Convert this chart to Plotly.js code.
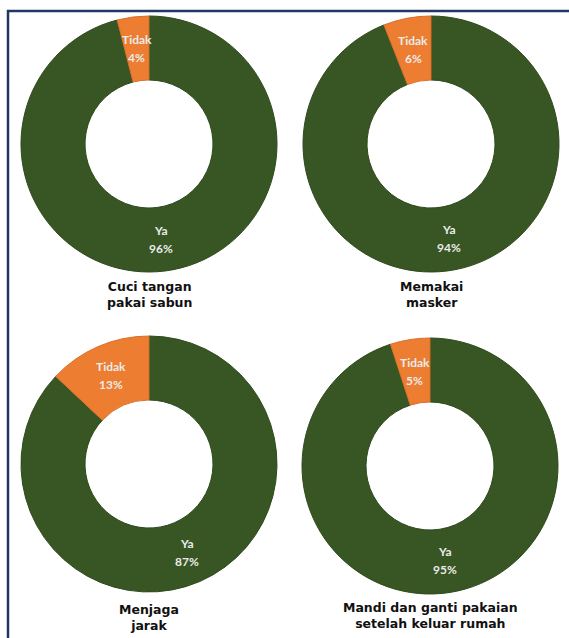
<!DOCTYPE html>
<html><head><meta charset="utf-8">
<script src="https://cdn.plot.ly/plotly-3.0.1.min.js"></script>
<style>html,body{margin:0;padding:0;background:#fff;}#chart{width:569px;height:638px;}</style>
</head><body><div id="chart"></div>
<script>
const categories = ["Ya", "Tidak"];
const titles = ["Cuci tangan<br>pakai sabun", "Memakai<br>masker", "Menjaga<br>jarak", "Mandi dan ganti pakaian<br>setelah keluar rumah"];
const yaValues = [96, 94, 87, 95];
const tidakValues = [4, 6, 13, 5];

const W = 569, H = 638;
// pixel boxes (left, top, size) for each donut
const boxes = [[21, 16, 256], [303, 16, 256], [21, 336, 256], [302, 338, 256]];
const titleY = [294, 294, 617, 615];
const HOLE = 0.5;

const green = "#375623", orange = "#ed7d31";
const traces = boxes.map((b, i) => ({
  type: "pie",
  labels: categories,
  values: [yaValues[i], tidakValues[i]],
  sort: false,
  direction: "clockwise",
  rotation: 0,
  hole: HOLE,
  marker: {colors: [green, orange], line: {color: ["#2f4a1e", "#d8702a"], width: 1}},
  textinfo: "none",
  hoverinfo: "none",
  showlegend: false,
  domain: {x: [b[0] / W, (b[0] + b[2]) / W], y: [1 - (b[1] + b[2]) / H, 1 - b[1] / H]}
}));

const annotations = [];
boxes.forEach((b, i) => {
  annotations.push({
    xref: "paper", yref: "paper",
    x: (b[0] + b[2] / 2) / W, y: 1 - titleY[i] / H,
    text: "<b>" + titles[i] + "</b>",
    showarrow: false,
    xanchor: "center", yanchor: "middle",
    font: {family: "'DejaVu Sans', Verdana, sans-serif", size: 12.5, color: "#111111"},
    align: "center"
  });
  // slice labels placed at mid-ring, mid-angle of each slice (from data)
  const vals = [yaValues[i], tidakValues[i]];
  const total = vals[0] + vals[1];
  const cx = b[0] + b[2] / 2, cy = b[1] + b[2] / 2;
  const rm = (b[2] / 2) * (1 + HOLE) / 2;
  let cum = 0;
  vals.forEach((v, k) => {
    const mid = (cum + v / 2) / total * 2 * Math.PI;
    cum += v;
    const px = cx + Math.sin(mid) * rm;
    const py = cy - Math.cos(mid) * rm;
    const lines = [categories[k], v + "%"];
    lines.forEach((t, j) => {
      annotations.push({
        xref: "paper", yref: "paper",
        x: px / W, y: 1 - py / H,
        yshift: j === 0 ? 9 : -9,
        text: "<b>" + t + "</b>",
        showarrow: false, xanchor: "center", yanchor: "middle",
        font: {family: "Lato, 'Open Sans', sans-serif", size: 12, color: "#ebebeb"}
      });
    });
  });
});

const layout = {
  width: W, height: H,
  margin: {l: 0, r: 0, t: 0, b: 0},
  paper_bgcolor: "#ffffff",
  annotations: annotations,
  shapes: [{
    type: "rect", xref: "paper", yref: "paper",
    x0: 8 / W, x1: 1.05, y0: -0.05, y1: 1 - 11 / H,
    line: {color: "#1f3864", width: 2.5}, fillcolor: "rgba(0,0,0,0)"
  }]
};
Plotly.newPlot("chart", traces, layout, {staticPlot: true, displayModeBar: false});
</script></body></html>
